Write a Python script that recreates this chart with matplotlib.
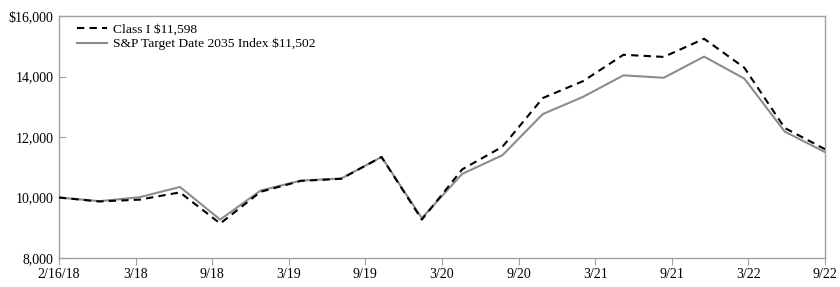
import numpy as np
import matplotlib.pyplot as plt

# Growth of $10,000, quarterly points from 2/16/18 to 9/22
class_i = [10000, 9870, 9930, 10170, 9140, 10190, 10550, 10620, 11340, 9270,
           10930, 11680, 13290, 13850, 14720, 14650, 15250, 14290, 12300, 11598]
index = [10000, 9880, 10010, 10350, 9270, 10230, 10560, 10630, 11340, 9320,
         10780, 11400, 12760, 13330, 14040, 13960, 14660, 13930, 12180, 11502]
tick_labels = ['2/16/18', '3/18', '9/18', '3/19', '9/19', '3/20',
               '9/20', '3/21', '9/21', '3/22', '9/22']
y_ticks = [8000, 10000, 12000, 14000, 16000]
y_labels = ['8,000', '10,000', '12,000', '14,000', '$16,000']

plt.rcParams['font.family'] = ['Liberation Serif', 'DejaVu Serif']

fig = plt.figure(figsize=(8.4, 2.87), dpi=100)
ax = fig.add_axes([0.0702, 0.101, 0.912, 0.843])

x = np.arange(len(class_i))
ax.plot(x, class_i, color='black', lw=1.5, dashes=(3.5, 2.5),
        label='Class I $11,598', zorder=3)
ax.plot(x, index, color='#8c8c8c', lw=1.5,
        label='S&P Target Date 2035 Index $11,502', zorder=2)

ax.set_xlim(0, len(class_i) - 1)
ax.set_ylim(8000, 16000)
ax.set_xticks(np.linspace(0, len(class_i) - 1, len(tick_labels)))
ax.set_xticklabels(tick_labels, fontsize=10)
ax.set_yticks(y_ticks)
ax.set_yticklabels(y_labels, fontsize=10)

for s in ax.spines.values():
    s.set_color('#a0a0a0')
    s.set_linewidth(1.0)
ax.tick_params(axis='x', direction='out', length=5, color='#a0a0a0', pad=2)
ax.tick_params(axis='y', direction='in', length=5, color='#a0a0a0', pad=4)

leg = ax.legend(loc='upper left', bbox_to_anchor=(0.0235, 0.972), frameon=False,
                fontsize=9.7, handlelength=2.2, handletextpad=0.45,
                borderaxespad=0, borderpad=0, labelspacing=0.2)

fig.savefig('out.png', dpi=100)
